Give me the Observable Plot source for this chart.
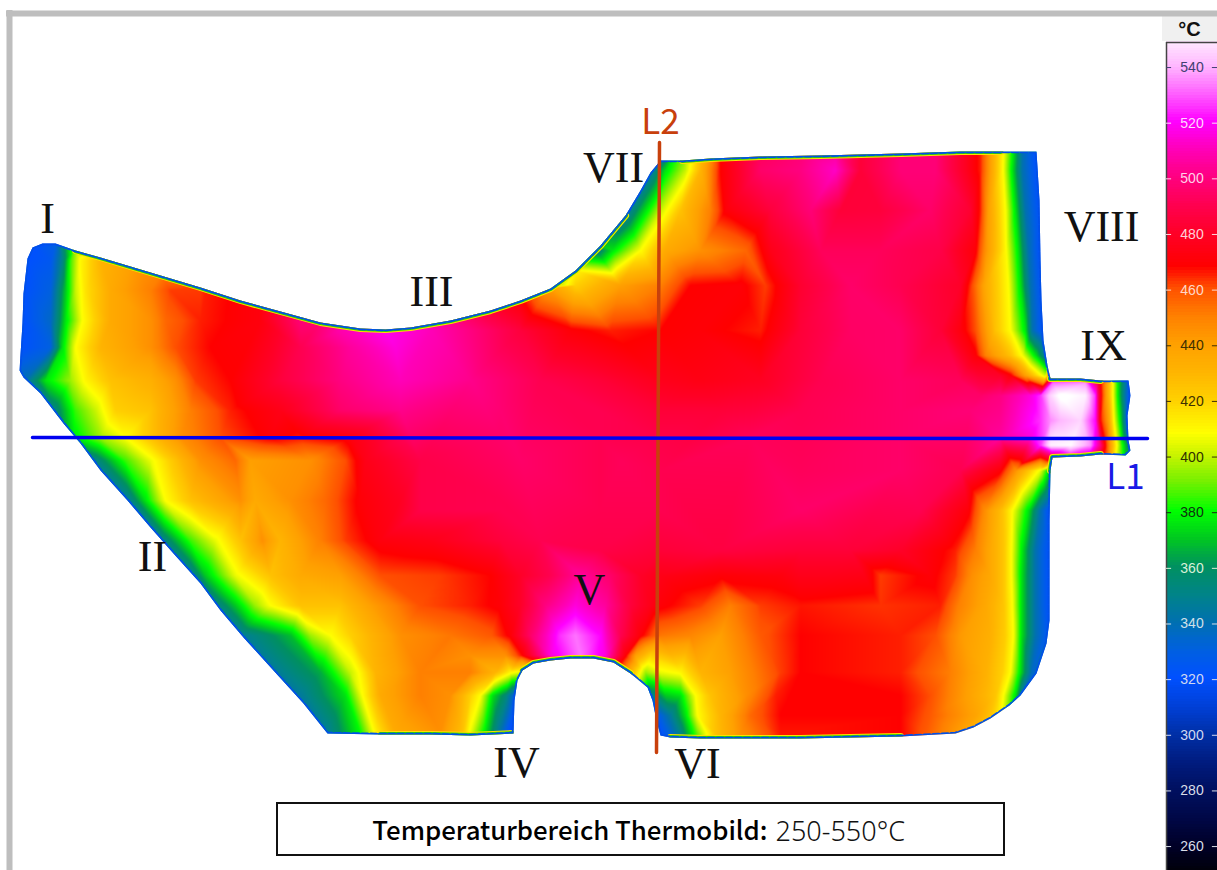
<!DOCTYPE html>
<html>
<head>
<meta charset="utf-8">
<script src="https://cdn.jsdelivr.net/npm/d3@7"></script>
<script src="https://cdn.jsdelivr.net/npm/@observablehq/plot@0.6"></script>
<style>
html,body{margin:0;padding:0;background:#fff;overflow:hidden}
#wrap{position:relative;width:1217px;height:870px;overflow:hidden}
#wrap svg{position:absolute;background:transparent;display:block}
#unit{position:absolute;left:1162px;top:16px;width:55px;height:25px;background:#f0f0f0;font:bold 20px "Liberation Sans";text-align:center;line-height:26px;color:#111}
</style>
</head>
<body>
<div id="wrap"><div id="unit">°C</div></div>
<script>
// colour bar
const tempStops = [250,260,270,280,290,300,310,320,330,340,350,360,370,380,390,400,408,420,430,440,450,460,468,480,490,500,510,520,530,540,550];
const colorStops = ["#000008","#000028","#000848","#001060","#001c80","#0030a8","#0040d8","#0050ff","#0060e0","#0070b0","#008488","#009060","#00c820","#00ff00","#70f000","#c8f400","#ffff00","#ffd000","#ffb400","#ffa000","#ff8000","#ff5000","#ff0000","#ff0028","#ff0050","#ff0080","#ff00b8","#ff00ff","#ff60ff","#ffb8ff","#fff0ff"];
const barTicks = [260,280,300,320,340,360,380,400,420,440,460,480,500,520,540];
const barInk = ["#d8dde8","#d8dde8","#d0d8f0","#d0d8f0","#d0e0e8","#d8f0d8","#103010","#303000","#403000","#403000","#ffd8c8","#ffd0d8","#ffd0e8","#ffd8ff","#404070"];

// part outline (image pixels)
const outlineX = [27,32,42,55,75,100,130,160,200,240,280,320,360,385,410,450,490,520,550,575,600,625,640,650,660,682,710,760,820,900,960,1000,1036,1039,1040,1041,1043,1047,1050,1080,1100,1128,1130,1127,1128,1130,1125,1100,1080,1052,1050,1049,1049,1049,1046,1036,1020,1009,990,973,955,900,800,700,670,660,656,652,647,630,613,593,570,550,533,522,517,514,513,470,430,380,327,303,273,243,220,200,173,150,127,100,80,63,40,23,19,22,23];
const outlineY = [258,247,243,243,250,257,266,275,287,300,311,322,328,329,327,320,310,300,288,270,245,215,190,172,160,160,158,156,155,153,151,151,151,200,260,300,340,365,378,378,380,380,395,415,440,450,455,454,456,457,470,520,570,620,643,673,695,705,718,727,733,736,738,738,737,735,720,700,687,673,662,658,658,660,663,670,680,700,733,735,734,734,733,703,670,637,610,583,553,527,500,470,443,423,393,377,370,323,293];
// stretches of the edge that are hot and show the yellow-green rim
const hotEdges = [[4,21],[25,31],[38,40],[47,50],[61,64],[69,75],[78,81]];

// temperature read along the upper edge: [x, y, °C]
const upperEdge = [[32,247,320],[55,245,330],[75,250,395],[100,257,425],[130,266,440],[160,275,450],[200,287,462],[260,305,472],[320,322,498],[385,329,518],[450,320,502],[520,300,470],[550,288,440],[575,270,410],[600,245,370],[625,215,345]];

// temperature scan lines: [x, °C]
const row152 = [[662,340],[680,385],[700,425],[720,468],[760,492],[800,498],[835,505],[860,484],[900,498],[935,498],[965,478],[980,465],[990,440],[1003,408],[1013,375],[1022,340],[1036,320]];
const row170 = [[652,345],[665,375],[685,400],[700,430],[720,468],[760,495],[800,500],[835,512],[860,484],[900,498],[935,498],[965,478],[980,465],[990,440],[1002,410],[1012,375],[1022,340],[1037,320]];
const row210 = [[628,345],[645,375],[660,400],[680,425],[710,450],[725,470],[770,485],[810,498],[840,484],[880,485],[930,495],[970,482],[980,465],[988,440],[1005,408],[1015,375],[1025,340],[1040,320]];
const row250 = [[596,350],[612,375],[640,408],[665,435],[700,445],[745,455],[770,475],[820,492],[880,492],[940,488],[975,470],[985,445],[1005,410],[1018,375],[1028,340],[1040,320]];
const row260 = [[27,320],[50,325],[62,350],[70,385],[80,410],[100,430],[130,445]];
const row285 = [[553,390],[575,420],[620,440],[660,450],[690,468],[740,470],[765,462],[800,482],[850,495],[900,490],[960,480],[972,460],[985,435],[1008,408],[1020,375],[1030,340],[1042,320]];
const row290 = [[23,320],[50,330],[65,370],[75,400],[85,415],[110,435],[150,450],[170,462],[205,465]];
const row320 = [[22,320],[50,335],[65,375],[82,408],[110,435],[150,445],[165,455],[200,465],[260,472],[300,498]];
const row330 = [[340,508],[385,518],[430,510],[470,500],[520,485],[570,470],[610,465],[660,468],[700,470],[760,465],[800,484],[850,494],[900,495],[940,484],[960,472],[975,460],[995,425],[1010,408],[1025,375],[1032,340],[1043,320]];
const row347 = [[20,320],[50,330],[62,375],[75,408],[100,430],[150,445],[175,460],[210,468],[300,490],[350,505],[395,515]];
const row355 = [[975,470],[985,450],[1010,425],[1023,405],[1035,375],[1047,340]];
const row375 = [[1000,480],[1010,470],[1025,440],[1045,400]];
const row380 = [[25,340],[45,375],[70,395],[85,410],[110,425],[150,432],[175,445],[195,462],[230,468],[280,485],[340,500],[400,510],[470,502],[540,490],[600,484],[660,476],[700,474],[760,478],[820,490],[900,495],[960,492]];
const row382 = [[1052,530],[1085,535],[1097,490],[1101,465],[1106,440],[1112,410],[1118,375],[1128,330]];
const row395 = [[980,495],[1000,500],[1030,515],[1040,525],[1050,545],[1060,555],[1085,550],[1095,525],[1098,490],[1101,468],[1106,440],[1112,410],[1118,375],[1125,340],[1130,320]];
const row410 = [[53,350],[75,385],[95,400],[105,410],[115,420],[150,425],[190,450],[230,465],[280,475],[340,495],[400,502],[500,497],[600,490],[660,484],[720,484],[800,490],[900,495],[970,498]];
const row420 = [[1040,525],[1050,535],[1060,540],[1080,545],[1095,520],[1098,490],[1100,468],[1108,440],[1114,405],[1120,375],[1127,330]];
const row437 = [[73,375],[100,395],[125,408],[150,425],[180,445],[220,460],[270,470],[300,466],[350,472],[400,490],[500,495],[600,490],[657,488],[750,492],[900,495],[1000,505],[1030,515]];
const row445 = [[1040,525],[1050,550],[1070,552],[1090,535],[1100,500],[1105,468],[1112,430],[1120,390],[1127,360]];
const row455 = [[1052,500],[1070,520],[1090,510],[1100,480],[1108,450],[1115,410],[1125,370]];
const row460 = [[95,350],[125,385],[150,405],[175,425],[200,445],[235,455],[250,440],[310,445],[345,460],[365,475],[420,488],[520,495],[620,492]];
const row470 = [[660,490],[800,492],[900,495],[960,490],[1000,470],[1015,445],[1040,405],[1050,370]];
const row500 = [[127,345],[145,375],[165,408],[190,425],[240,445],[255,435],[290,445],[325,455],[360,470],[400,478],[500,490]];
const row510 = [[420,488],[500,490],[600,490],[660,490],[800,495],[920,490],[968,470],[985,445],[1002,425],[1012,408],[1028,375],[1040,340],[1049,320]];
const row540 = [[163,350],[190,385],[215,405],[240,425],[262,445],[280,430],[320,450],[345,462],[380,472],[430,475],[500,485],[540,490]];
const row550 = [[600,488],[660,484],[720,486],[800,484],[850,484],[900,480],[955,465],[975,450],[990,436],[1003,424],[1011,408],[1022,375],[1035,340],[1049,320]];
const row575 = [[190,345],[205,370],[235,405],[270,425],[300,435],[340,440],[380,460],[440,462],[490,468],[520,480],[550,490],[580,505],[610,495],[640,480],[660,475],[720,470],[780,472],[880,462],[930,470],[955,462],[972,445],[990,436],[1003,424],[1011,408],[1021,375],[1035,340],[1049,320]];
const row605 = [[212,345],[235,370],[255,395],[270,408],[300,425],[340,425],[370,440],[420,460],[470,465],[500,470],[520,480],[545,500],[575,515],[605,505],[630,485],[650,475],[660,470],[700,462],[730,450],[760,462],[800,466],[880,463],[940,465],[958,450],[985,436],[1003,424],[1012,408],[1021,375],[1035,340],[1049,320]];
const row635 = [[240,345],[290,368],[310,395],[330,408],[350,420],[400,445],[450,452],[490,458],[510,470],[530,495],[560,525],[575,532],[600,520],[620,490],[640,470],[660,452],[690,448],[720,440],[760,458],[800,468],[900,465],[935,460],[960,442],[990,432],[1004,422],[1013,408],[1021,375],[1035,340],[1047,325]];
const row655 = [[470,445],[505,445],[520,465],[535,490],[550,515],[580,532],[605,515],[625,470],[635,440],[650,420]];
const row672 = [[275,345],[320,365],[350,400],[358,408],[375,430],[420,450],[470,450],[495,430],[510,410],[525,400],[645,395],[660,405],[680,410],[700,430],[730,440],[780,462],[800,468],[900,465],[950,450],[985,432],[1002,420],[1010,408],[1020,375],[1032,335]];
const row695 = [[300,345],[345,375],[362,408],[380,435],[420,450],[450,445],[470,420],[480,408],[492,375],[505,355],[514,330],[652,350],[665,370],[680,375],[695,408],[710,425],[745,445],[775,465],[900,468],[930,460],[970,438],[995,424],[1003,408],[1015,375],[1022,340]];
const row715 = [[656,325],[670,345],[685,375],[697,408],[720,430],[750,455],[780,468],[900,468],[930,458],[975,438],[990,425],[1000,410]];
const row733 = [[325,345],[360,380],[375,410],[395,435],[440,445],[462,425],[470,405],[485,375],[500,340],[513,310],[660,320],[680,350],[697,390],[715,425],[740,445],[780,466],[900,468],[925,458],[960,440]];
const row738 = [[670,330],[697,390],[715,425],[740,445],[780,466],[900,468],[925,458]];

const scanRows = [[152,row152],[170,row170],[210,row210],[250,row250],[260,row260],[285,row285],[290,row290],[320,row320],[330,row330],[347,row347],[355,row355],[375,row375],[380,row380],[382,row382],[395,row395],[410,row410],[420,row420],[437,row437],[445,row445],[455,row455],[460,row460],[470,row470],[500,row500],[510,row510],[540,row540],[550,row550],[575,row575],[605,row605],[635,row635],[655,row655],[672,row672],[695,row695],[715,row715],[733,row733],[738,row738]];
const samples = scanRows.flatMap(([y, row]) => row.map(([x, t]) => ({x, y, t})))
  .concat(upperEdge.map(([x, y, t]) => ({x, y, t})));

// annotations
const romanLabels = ["I","II","III","IV","V","VI","VII","VIII","IX"];
const romanX = [47,152,431,516,589,697,613,1101,1103];
const romanY = [218,556,291,762,589,763,167,226,345];
const lineL1 = [[32,437],[1147,438]];
const lineL2 = [[659,142],[656,752]];

const outline = outlineX.map((x, i) => ({x, y: outlineY[i]}));
const hot = hotEdges.flatMap(([a, b], k) => outline.slice(a, b + 1).map(p => ({...p, edge: k})));
const colorScale = {type: "linear", domain: tempStops, range: colorStops};

let clipCount = 0;
function clipToPart(index, scales, values, dimensions, context, next) {
  const g = next(index, scales, values, dimensions, context);
  const ns = "http://www.w3.org/2000/svg";
  const cp = document.createElementNS(ns, "clipPath");
  cp.id = "part-clip-" + (++clipCount);
  const poly = document.createElementNS(ns, "polygon");
  poly.setAttribute("points", outline.map(p => scales.x(p.x) + "," + scales.y(p.y)).join(" "));
  cp.appendChild(poly);
  g.appendChild(cp);
  g.setAttribute("clip-path", "url(#" + cp.id + ")");
  return g;
}

const main = Plot.plot({
  width: 1217, height: 870,
  marginLeft: 0, marginRight: 0, marginTop: 0, marginBottom: 0,
  x: {axis: null, domain: [0, 1217]},
  y: {axis: null, domain: [870, 0]},
  color: colorScale,
  style: {background: "transparent"},
  marks: [
    Plot.ruleX([9], {y1: 10, y2: 870, stroke: "#bebebe", strokeWidth: 6}),
    Plot.ruleY([13], {x1: 6, x2: 1217, stroke: "#bebebe", strokeWidth: 6}),
    Plot.raster(samples, {x: "x", y: "y", fill: "t", interpolate: "barycentric", pixelSize: 1, render: clipToPart}),
    Plot.line(hot, {x: "x", y: "y", z: "edge", stroke: "#ffe000", strokeWidth: 7, render: clipToPart}),
    Plot.line(hot, {x: "x", y: "y", z: "edge", stroke: "#30d000", strokeWidth: 5, render: clipToPart}),
    Plot.line(outline, {x: "x", y: "y", curve: "linear-closed", stroke: "#0050e8", strokeWidth: 3.5, strokeDasharray: "6,3", render: clipToPart}),
    Plot.line(lineL2, {x: d => d[0], y: d => d[1], stroke: "#c8400c", strokeWidth: 3.5}),
    Plot.line(lineL1, {x: d => d[0], y: d => d[1], stroke: "#0000f0", strokeWidth: 3.5}),
    Plot.text(romanLabels, {x: (d, i) => romanX[i], y: (d, i) => romanY[i], text: d => d, fontFamily: "Liberation Serif", fontSize: 44, fill: "#111"}),
    Plot.text(["L1"], {x: [1125], y: [477], text: d => d, fontFamily: "Noto Sans CJK KR", fontWeight: 400, fontSize: 35, fill: "#1a1ae6"}),
    Plot.text(["L2"], {x: [660], y: [122], text: d => d, fontFamily: "Noto Sans CJK KR", fontWeight: 400, fontSize: 35, fill: "#c8400c"}),
    Plot.rect([0], {x1: 277, x2: 1004, y1: 803, y2: 855, fill: "#fff", stroke: "#111", strokeWidth: 2}),
    Plot.text(["Temperaturbereich Thermobild:"], {x: [767], y: [831], textAnchor: "end", text: d => d, fontFamily: "Noto Sans CJK KR", fontWeight: 500, fontSize: 25.8, fill: "#000"}),
    Plot.text(["250-550°C"], {x: [775], y: [832], textAnchor: "start", text: d => d, fontFamily: "Noto Sans", fontWeight: 300, fontSize: 27, fill: "#111"})
  ]
});
main.style.left = "0px"; main.style.top = "0px";

const levels = d3.range(251, 549);
const bar = Plot.plot({
  width: 52, height: 829,
  marginLeft: 1, marginRight: 0, marginTop: 1, marginBottom: 0,
  x: {axis: null, domain: [0, 1]},
  y: {axis: null, domain: [251.4, 549]},
  color: colorScale,
  style: {background: "transparent"},
  marks: [
    Plot.rect(levels, {x1: 0, x2: 1, y1: d => d, y2: d => d + 1.5, fill: d => d, shapeRendering: "crispEdges"}),
    Plot.ruleX([0], {stroke: "#444", strokeWidth: 1.5}),
    Plot.ruleY([549], {stroke: "#444", strokeWidth: 1.5}),
    Plot.ruleY(barTicks, {x1: 0, x2: 0.1, stroke: (d, i) => barInk[i]}),
    Plot.ruleY(barTicks, {x1: 0.9, x2: 1, stroke: (d, i) => barInk[i]}),
    Plot.text(barTicks, {x: 0.5, y: d => d, text: d => String(d), fill: (d, i) => barInk[i], fontFamily: "Liberation Sans", fontSize: 14})
  ]
});
bar.style.left = "1165px"; bar.style.top = "41px";

const wrap = document.getElementById("wrap");
wrap.appendChild(main);
wrap.appendChild(bar);
</script>
</body>
</html>
